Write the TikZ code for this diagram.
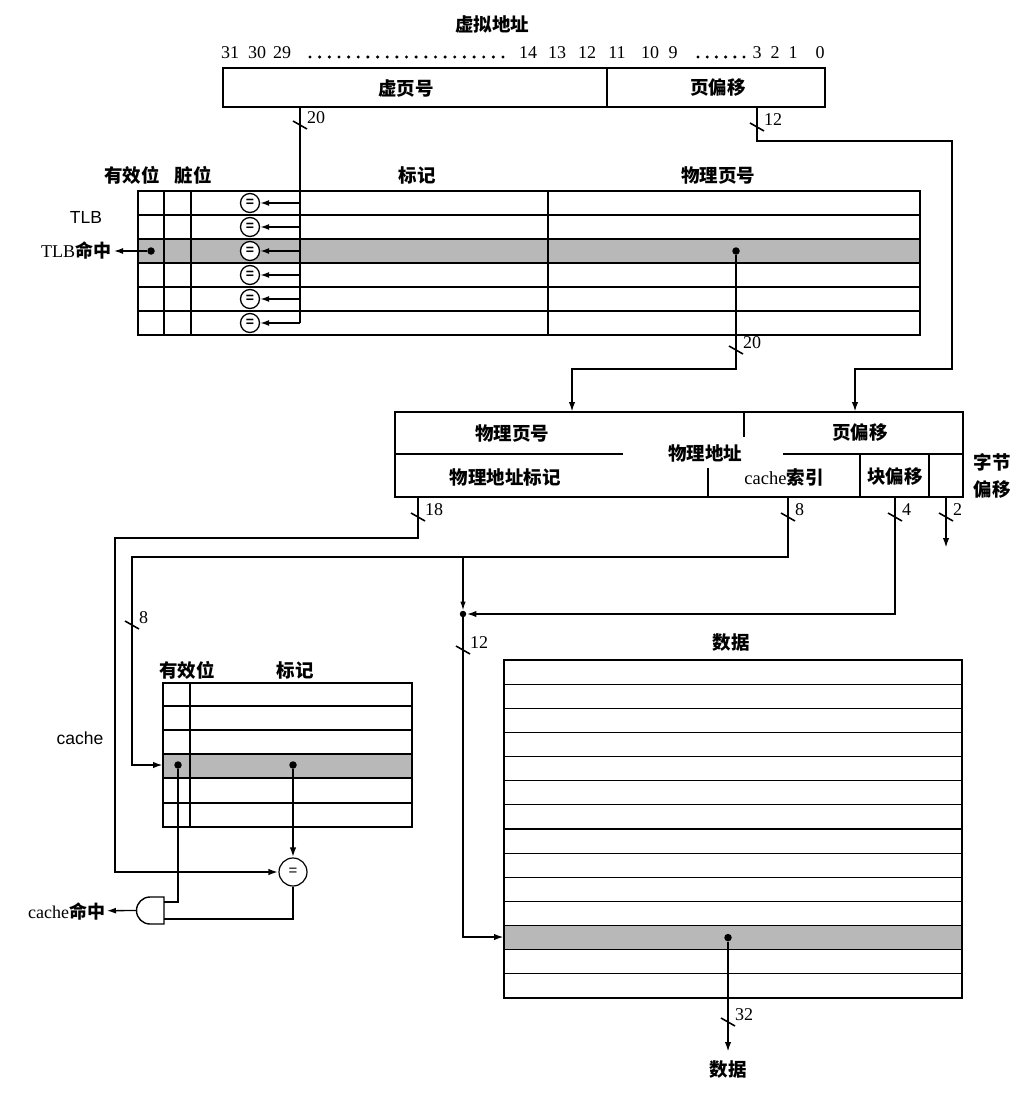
\documentclass[tikz,border=0pt]{standalone}
\usepackage{fontspec}
\setmainfont{Liberation Serif}
\newfontfamily\cjk{Noto Sans CJK SC}
\newfontfamily\sansf{Liberation Sans}
\usetikzlibrary{arrows.meta}
\tikzset{
  bus/.style={line width=2pt},
  arr/.style={bus, -{Latex[length=10pt,width=6.5pt]}},
  thinarr/.style={line width=1.6pt, -{Latex[length=9pt,width=6pt]}},
  gridl/.style={line width=1.2pt},
  boxl/.style={line width=1.4pt},
  lbl/.style={font=\cjk\bfseries\fontsize{18.5}{21}\selectfont, inner sep=0pt},
  num/.style={font=\fontsize{18}{21}\selectfont, inner sep=0pt},
  sanslbl/.style={font=\sansf\fontsize{17.5}{20}\selectfont, inner sep=0pt},
  tickl/.style={line width=1.6pt},
  eqc/.style={circle, draw, line width=1.3pt, minimum size=19pt, inner sep=0pt, fill=white, font=\sansf\bfseries\fontsize{14}{14}\selectfont},
  dotc/.style={circle, fill, inner sep=0pt, minimum size=7.5pt},
  hl/.style={fill=black!28},
}
\newcommand\bustick[4]{% name, x, y, text
  \draw[tickl] (#2-7,#3-4) -- (#2+7,#3+4);
  \node[num, anchor=west] (#1) at (#2+7,#3-7) {#4};
}
\begin{document}
\begin{tikzpicture}[x=1pt,y=-1pt]
\useasboundingbox[fill=white] (0,0) rectangle (1035,1099);

% ---------------- virtual address ----------------
\node[lbl] (vatitle) at (492,24) {虚拟地址};
\foreach \n/\x [count=\k] in {31/230,30/257,29/282,14/528,13/557,12/587,11/617,10/650,9/673,3/757,2/775,1/793,0/820}
  \node[num] (bit\k) at (\x,53) {\n};
\foreach \i in {0,...,20} \fill (310+\i*9.65,57) circle (1.7);
\foreach \i in {0,...,5} \fill (698+\i*9.2,57) circle (1.7);
\draw[boxl] (223,68) rectangle (825,107);
\draw[boxl] (607,68) -- (607,107);
\node[lbl] (vpn) at (406,88) {虚页号};
\node[lbl] (voff) at (718,88) {页偏移};

% ---------------- TLB ----------------
\node[lbl] (tvalid) at (132,175) {有效位};
\node[lbl] (tdirty) at (193,175) {脏位};
\node[lbl] (ttag) at (417,175) {标记};
\node[lbl] (tppn) at (718,175) {物理页号};
\node[sanslbl] (tlblbl) at (86,217) {TLB};
\fill[hl] (138,239) rectangle (920,263);
\draw[gridl] (138,191) rectangle (920,335);
\foreach \y in {215,239,263,287,311} \draw[gridl] (138,\y) -- (920,\y);
\draw[gridl] (164,191) -- (164,335);
\draw[gridl] (191,191) -- (191,335);
\draw[boxl] (548,191) -- (548,335);

\coordinate (va20) at (300,107);
\coordinate (va20b) at (300,323);
\draw[bus] (va20) -- (va20b);
\bustick{l20a}{300}{125}{20}
\foreach \r [count=\i] in {203,227,251,275,299,323} {
  \coordinate (tb\i) at (300,\r);
  \node[eqc] (eq\i) at (250,\r) {=};
  \draw[thinarr] (tb\i) -- (eq\i);
}
\node[dotc] (tlbdot) at (151,251) {};
\node[font=\fontsize{18}{21}\selectfont, inner sep=0pt, outer sep=3pt, anchor=east] (tlbhit) at (114,251) {TLB{\cjk\bfseries 命中}};
\draw[line width=1.3pt, -{Latex[length=9pt,width=6pt]}] (tlbdot) -- (tlbhit);

% page offset line
\coordinate (va12) at (757,107);
\coordinate (pa12) at (855,412);
\draw[arr] (va12) |- (952,141) |- (855,369) -- (pa12);
\bustick{l12a}{757}{127}{12}

% physical page number line
\node[dotc] (ppndot) at (736,251) {};
\coordinate (pappn) at (572,412);
\draw[arr] (ppndot) |- (572,369) -- (pappn);
\bustick{l20b}{736}{350}{20}

% ---------------- physical address ----------------
\draw[boxl] (395,412) rectangle (963,497);
\draw[boxl] (744,412) -- (744,437);
\draw[boxl] (395,454) -- (623,454);
\draw[boxl] (783,454) -- (963,454);
\draw[boxl] (708,468) -- (708,497);
\draw[boxl] (860,454) -- (860,497);
\draw[boxl] (929,454) -- (929,497);
\node[lbl] (pppn) at (512,433) {物理页号};
\node[lbl] (poff) at (860,433) {页偏移};
\node[lbl] (paddr) at (705,453) {物理地址};
\node[lbl] (ptag) at (505,477) {物理地址标记};
\node[lbl] (pidx) at (784,477) {{\rmfamily\mdseries cache}索引};
\node[lbl] (pblk) at (895,477) {块偏移};
\node[lbl] (pbyte1) at (992,462) {字节};
\node[lbl] (pbyte2) at (992,490) {偏移};

\coordinate (pa18) at (418,497);
\coordinate (pa8) at (788,497);
\coordinate (pa4) at (895,497);
\coordinate (pa2) at (946,497);
\coordinate (pa2e) at (946,548);
\bustick{l18}{418}{517}{18}
\bustick{l8a}{788}{517}{8}
\bustick{l4}{895}{517}{4}
\bustick{l2}{946}{517}{2}
\draw[arr] (pa2) -- (pa2e);

% ---------------- cache ----------------
\node[lbl] (cvalid) at (187,670) {有效位};
\node[lbl] (ctag) at (295,670) {标记};
\node[sanslbl] (cachelbl) at (80,738) {cache};
\fill[hl] (163,754) rectangle (412,778);
\draw[gridl] (163,683) rectangle (412,827);
\foreach \y in {706,730,754,778,803} \draw[gridl] (163,\y) -- (412,\y);
\draw[gridl] (190,683) -- (190,827);
\coordinate (crow) at (163,765);
\node[dotc] (cvd) at (178,765) {};
\node[dotc] (ctd) at (293,765) {};
\node[eqc, minimum size=28pt, line width=1.2pt, font=\sansf\fontsize{15}{15}\selectfont] (ceq) at (293,872) {=};

% index line (8) and tag line (18)
\draw[arr] (pa8) |- (132,557) |- (crow);
\bustick{l8b}{132}{625}{8}
\draw[arr] (pa18) |- (115,538) |- (ceq);
\draw[arr] (ctd) -- (ceq);

% AND gate
\coordinate (gA) at (164,902);
\coordinate (gB) at (164,919);
\coordinate (gO) at (136.5,910.5);
\draw[boxl] (164,897) -- (150,897) arc[start angle=270, end angle=90, radius=13.5] -- (164,924) -- cycle;
\draw[line width=1.6pt] (cvd) |- (gA);
\draw[line width=1.6pt] (ceq) |- (gB);
\node[font=\fontsize{18}{21}\selectfont, inner sep=0pt, outer sep=2pt, anchor=east] (chit) at (107,911) {cache{\cjk\bfseries 命中}};
\draw[line width=1.3pt, -{Latex[length=9pt,width=6pt]}] (gO) -- (chit);

% ---------------- data ----------------
\coordinate (j1) at (463,557);
\node[dotc, minimum size=6.5pt] (jd) at (463,614) {};
\draw[line width=1.4pt, -{Latex[length=9pt,width=5.5pt]}] (j1) -- (jd);
\draw[arr] (pa4) |- (jd);
\coordinate (drow) at (504,937);
\draw[arr] (jd) |- (drow);
\bustick{l12b}{463}{650}{12}

\node[lbl] (dtitle) at (731,643) {数据};
\fill[hl] (504,925.6) rectangle (962,949.7);
\draw[gridl] (504,660) rectangle (962,998);
\foreach \i in {1,...,13} \draw[gridl] (504,660+\i*24.143) -- (962,660+\i*24.143);
\node[dotc] (dd) at (728,937.6) {};
\coordinate (dend) at (728,1052);
\draw[arr] (dd) -- (dend);
\bustick{l32}{728}{1022}{32}
\node[lbl] (dout) at (728,1070) {数据};
\end{tikzpicture}
\end{document}
